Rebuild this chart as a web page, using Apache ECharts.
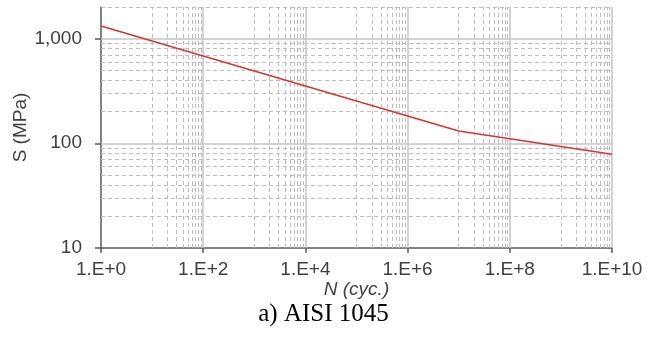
<!DOCTYPE html>
<html>
<head>
<meta charset="utf-8">
<script src="https://cdn.jsdelivr.net/npm/echarts@6/dist/echarts.min.js"></script>
<style>
html,body{margin:0;padding:0;background:#fff;}
#chart{width:647px;height:340px;}
</style>
</head>
<body>
<div id="chart"></div>
<script>
// Data (S-N curve, AISI 1045)
var cycles = [1, 1e7, 1e10];
var stress = [1320, 131, 78.5];

// Axis ranges and tick labels
var xMin = 1, xMax = 1e10;
var yMin = 10, yMax = 2000;
var xMajor = [1e2, 1e4, 1e6, 1e8, 1e10];
var yMajor = [100, 1000];
var yTickValues = [10, 100, 1000];
var xTickLabels = ['1.E+0', '1.E+2', '1.E+4', '1.E+6', '1.E+8', '1.E+10'];
var yTickLabels = ['10', '100', '1,000'];
var caption = 'a) AISI 1045';

// minor gridline values
var xMinor = [];
[0, 2, 4, 6, 8].forEach(function (k) {
  for (var m = 1; m <= 9; m++) xMinor.push(Math.pow(10, k + 1) * m);
});
var yMinor = [];
[1, 2].forEach(function (k) {
  for (var m = 2; m <= 9; m++) yMinor.push(Math.pow(10, k) * m);
});
yMinor.push(2000);

var gridData = [];
xMinor.forEach(function (v) {
  gridData.push({ xAxis: v, lineStyle: { type: [4, 3], color: '#bdbdbd', width: 1 } });
});
yMinor.forEach(function (v) {
  gridData.push({ yAxis: v, lineStyle: { type: [4, 3], color: '#bdbdbd', width: 1 } });
});
xMajor.forEach(function (v) {
  gridData.push({ xAxis: v, lineStyle: { type: 'solid', color: '#c4c4c4', width: 1.5 } });
});
yMajor.forEach(function (v) {
  gridData.push({ yAxis: v, lineStyle: { type: 'solid', color: '#c4c4c4', width: 1.5 } });
});

var points = cycles.map(function (c, i) { return [c, stress[i]]; });

function expOf(v) { return Math.round(Math.log(v) / Math.LN10); }
function isPow10(v) { var e = Math.log(v) / Math.LN10; return Math.abs(e - Math.round(e)) < 1e-6; }

var chart = echarts.init(document.getElementById('chart'), null, { renderer: 'canvas' });
chart.setOption({
  animation: false,
  backgroundColor: '#fff',
  textStyle: { fontFamily: '"Liberation Sans", Arial, sans-serif' },
  title: {
    text: caption,
    left: 'center',
    top: 297,
    textStyle: { fontFamily: '"Liberation Serif", "Times New Roman", serif', fontSize: 25, fontWeight: 'normal', color: '#000' }
  },
  grid: { left: 101, right: 35, top: 7, bottom: 92, containLabel: false, outerBoundsMode: 'none' },
  xAxis: {
    type: 'log', logBase: 10, min: xMin, max: xMax, interval: 2,
    name: 'N (cyc.)', nameLocation: 'middle', nameGap: 32, nameMoveOverlap: false,
    nameTextStyle: { fontStyle: 'italic', fontSize: 19, color: '#404040' },
    axisLine: { show: true, lineStyle: { color: '#595959', width: 1.5 } },
    axisTick: { show: true, length: 5, lineStyle: { color: '#595959', width: 1.5 } },
    splitLine: { show: false },
    minorTick: { show: false }, minorSplitLine: { show: false },
    axisLabel: {
      fontSize: 19, color: '#404040', margin: 12,
      formatter: function (v) { return isPow10(v) ? xTickLabels[expOf(v) / 2] : ''; }
    }
  },
  yAxis: {
    type: 'log', logBase: 10, min: yMin, max: yMax, interval: 1,
    name: 'S (MPa)', nameLocation: 'middle', nameGap: 71, nameRotate: 90, nameMoveOverlap: false,
    nameTextStyle: { fontSize: 19, color: '#404040' },
    axisLine: { show: true, lineStyle: { color: '#595959', width: 1.5 } },
    axisTick: { show: true, length: 6, customValues: yTickValues, lineStyle: { color: '#595959', width: 1.5 } },
    splitLine: { show: false },
    minorTick: { show: false }, minorSplitLine: { show: false },
    axisLabel: {
      fontSize: 19, color: '#404040', margin: 19,
      formatter: function (v) { return isPow10(v) ? yTickLabels[expOf(v) - 1] : ''; }
    }
  },
  series: [
    {
      type: 'line', data: [], z: 1, silent: true,
      markLine: { silent: true, symbol: ['none', 'none'], label: { show: false }, animation: false, data: gridData }
    },
    {
      type: 'line', data: points, z: 5, symbol: 'none', silent: true,
      lineStyle: { color: '#d93434', width: 1.6 }
    }
  ]
});
</script>
</body>
</html>
